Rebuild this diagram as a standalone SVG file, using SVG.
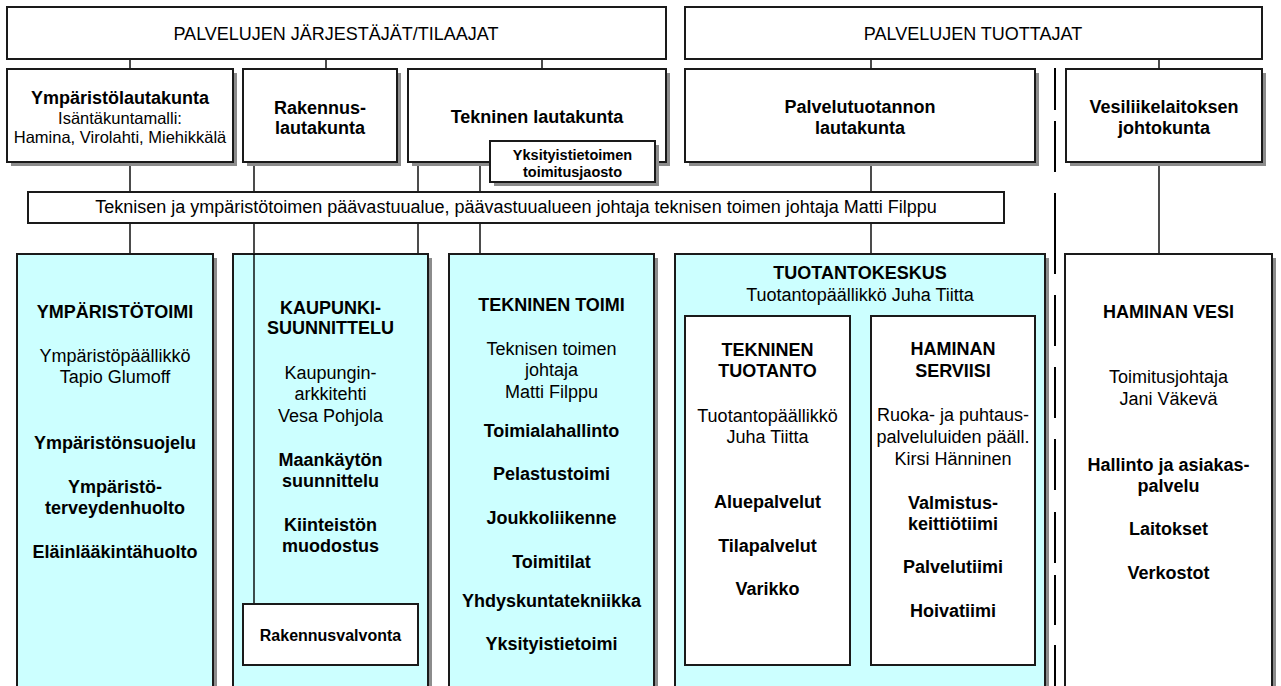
<svg xmlns="http://www.w3.org/2000/svg" width="1281" height="686" viewBox="0 0 1281 686">
<style>
.box{fill:#fff;stroke:#1a1a1a;stroke-width:2}
.cy{fill:#ccffff;stroke:#1a1a1a;stroke-width:2}
.sh{fill:#8c8c8c}
.ln{stroke:#000;stroke-width:1.4;fill:none}
.dash{stroke:#000;stroke-width:2;fill:none}
text{font-family:"Liberation Sans",Arial,sans-serif;fill:#000;text-anchor:middle}
.b{font-weight:bold;font-size:18px}
.r{font-size:18px}
.rs{font-size:16.5px}
.bs{font-weight:bold;font-size:14.5px}
.bm{font-weight:bold;font-size:16px}
</style>
<rect width="1281" height="686" fill="#fff"/>

<g id="connectors">
<path class="ln" d="M130 59V69 M326 59V69 M542 59V69 M871 59V69 M1159 59V69"/>
<path class="ln" d="M130 162V254 M254 162V604 M418 162V254 M480 162V254 M871 162V254 M1159 162V254"/>
<path class="dash" d="M1055 68V110 M1055 121V172 M1055 193V274 M1055 295V346 M1055 367V418 M1055 439V490 M1055 512V563 M1055 575V625 M1055 645V686"/>
</g>

<g id="jarjestajat">
<rect class="box" x="7" y="7" width="659" height="52"/>
<text class="r" x="336" y="40">PALVELUJEN JÄRJESTÄJÄT/TILAAJAT</text>
</g>
<g id="tuottajat">
<rect class="box" x="685" y="7" width="577" height="52"/>
<text class="r" x="973" y="40">PALVELUJEN TUOTTAJAT</text>
</g>

<g id="ymparistolautakunta">
<rect class="sh" x="11" y="73" width="226" height="93"/>
<rect class="box" x="7" y="69" width="226" height="93"/>
<text class="b" x="120" y="104">Ympäristölautakunta</text>
<text class="rs" x="120" y="124">Isäntäkuntamalli:</text>
<text class="rs" x="120" y="143">Hamina, Virolahti, Miehikkälä</text>
</g>
<g id="rakennuslautakunta">
<rect class="sh" x="247" y="73" width="154" height="93"/>
<rect class="box" x="243" y="69" width="154" height="93"/>
<text class="b" x="320" y="113.5">Rakennus-</text>
<text class="b" x="320" y="134">lautakunta</text>
</g>
<g id="tekninenlautakunta">
<rect class="sh" x="412" y="73" width="258" height="93"/>
<rect class="box" x="408" y="69" width="258" height="93"/>
<text class="b" x="537" y="123">Tekninen lautakunta</text>
</g>
<g id="yksityistietoimen">
<rect class="sh" x="494" y="145" width="165" height="41"/>
<rect class="box" x="490" y="141" width="165" height="41"/>
<text class="bs" x="572.5" y="160">Yksityistietoimen</text>
<text class="bs" x="572.5" y="177">toimitusjaosto</text>
</g>
<g id="palvelutuotannon">
<rect class="sh" x="689" y="73" width="350" height="93"/>
<rect class="box" x="685" y="69" width="350" height="93"/>
<text class="b" x="860" y="112.5">Palvelutuotannon</text>
<text class="b" x="860" y="134">lautakunta</text>
</g>
<g id="vesiliikelaitos">
<rect class="sh" x="1070" y="73" width="196" height="93"/>
<rect class="box" x="1066" y="69" width="196" height="93"/>
<text class="b" x="1164" y="112.5">Vesiliikelaitoksen</text>
<text class="b" x="1164" y="134">johtokunta</text>
</g>

<g id="paavastuualue">
<rect class="box" x="28" y="192" width="976" height="31"/>
<text class="r" x="516" y="213">Teknisen ja ympäristötoimen päävastuualue, päävastuualueen johtaja teknisen toimen johtaja Matti Filppu</text>
</g>

<g id="ymparistotoimi">
<rect class="sh" x="21" y="258" width="196" height="450"/>
<rect class="cy" x="17" y="254" width="196" height="450"/>
<text class="b" x="115" y="318">YMPÄRISTÖTOIMI</text>
<text class="r" x="115" y="362">Ympäristöpäällikkö</text>
<text class="r" x="115" y="383">Tapio Glumoff</text>
<text class="b" x="115" y="449">Ympäristönsuojelu</text>
<text class="b" x="115" y="493">Ympäristö-</text>
<text class="b" x="115" y="514">terveydenhuolto</text>
<text class="b" x="115" y="558">Eläinlääkintähuolto</text>
</g>

<g id="kaupunkisuunnittelu">
<rect class="sh" x="237" y="258" width="195" height="450"/>
<rect class="cy" x="233" y="254" width="195" height="450"/>
<line class="ln" x1="254" y1="254" x2="254" y2="604"/>
<text class="b" x="330.5" y="314">KAUPUNKI-</text>
<text class="b" x="330.5" y="334">SUUNNITTELU</text>
<text class="r" x="330.5" y="379">Kaupungin-</text>
<text class="r" x="330.5" y="400">arkkitehti</text>
<text class="r" x="330.5" y="422">Vesa Pohjola</text>
<text class="b" x="330.5" y="466">Maankäytön</text>
<text class="b" x="330.5" y="487">suunnittelu</text>
<text class="b" x="330.5" y="531">Kiinteistön</text>
<text class="b" x="330.5" y="552">muodostus</text>
</g>
<g id="rakennusvalvonta">
<rect class="box" x="243" y="604" width="175" height="61"/>
<text class="bm" x="330.5" y="641">Rakennusvalvonta</text>
</g>

<g id="tekninentoimi">
<rect class="sh" x="453" y="258" width="205" height="450"/>
<rect class="cy" x="449" y="254" width="205" height="450"/>
<text class="b" x="551.5" y="311">TEKNINEN TOIMI</text>
<text class="r" x="551.5" y="355">Teknisen toimen</text>
<text class="r" x="551.5" y="376">johtaja</text>
<text class="r" x="551.5" y="398">Matti Filppu</text>
<text class="b" x="551.5" y="437">Toimialahallinto</text>
<text class="b" x="551.5" y="480">Pelastustoimi</text>
<text class="b" x="551.5" y="524">Joukkoliikenne</text>
<text class="b" x="551.5" y="568">Toimitilat</text>
<text class="b" x="551.5" y="607">Yhdyskuntatekniikka</text>
<text class="b" x="551.5" y="650">Yksityistietoimi</text>
</g>

<g id="tuotantokeskus">
<rect class="sh" x="679" y="258" width="370" height="450"/>
<rect class="cy" x="675" y="254" width="370" height="450"/>
<text class="b" x="860" y="279">TUOTANTOKESKUS</text>
<text class="r" x="860" y="301">Tuotantopäällikkö Juha Tiitta</text>
</g>
<g id="teknineentuotanto">
<rect class="box" x="685" y="316" width="165" height="349"/>
<text class="b" x="767.5" y="356">TEKNINEN</text>
<text class="b" x="767.5" y="377">TUOTANTO</text>
<text class="r" x="767.5" y="422">Tuotantopäällikkö</text>
<text class="r" x="767.5" y="443">Juha Tiitta</text>
<text class="b" x="767.5" y="508">Aluepalvelut</text>
<text class="b" x="767.5" y="552">Tilapalvelut</text>
<text class="b" x="767.5" y="595">Varikko</text>
</g>
<g id="haminanserviisi">
<rect class="box" x="871" y="316" width="164" height="349"/>
<text class="b" x="953" y="355">HAMINAN</text>
<text class="b" x="953" y="377">SERVIISI</text>
<text class="r" x="953" y="421">Ruoka- ja puhtaus-</text>
<text class="r" x="953" y="443">palveluluiden pääll.</text>
<text class="r" x="953" y="465">Kirsi Hänninen</text>
<text class="b" x="953" y="509">Valmistus-</text>
<text class="b" x="953" y="530">keittiötiimi</text>
<text class="b" x="953" y="573">Palvelutiimi</text>
<text class="b" x="953" y="617">Hoivatiimi</text>
</g>

<g id="haminanvesi">
<rect class="sh" x="1069" y="258" width="207" height="450"/>
<rect class="box" x="1065" y="254" width="207" height="450"/>
<text class="b" x="1168.5" y="318">HAMINAN VESI</text>
<text class="r" x="1168.5" y="383">Toimitusjohtaja</text>
<text class="r" x="1168.5" y="405">Jani Väkevä</text>
<text class="b" x="1168.5" y="471">Hallinto ja asiakas-</text>
<text class="b" x="1168.5" y="492">palvelu</text>
<text class="b" x="1168.5" y="535">Laitokset</text>
<text class="b" x="1168.5" y="579">Verkostot</text>
</g>
</svg>
